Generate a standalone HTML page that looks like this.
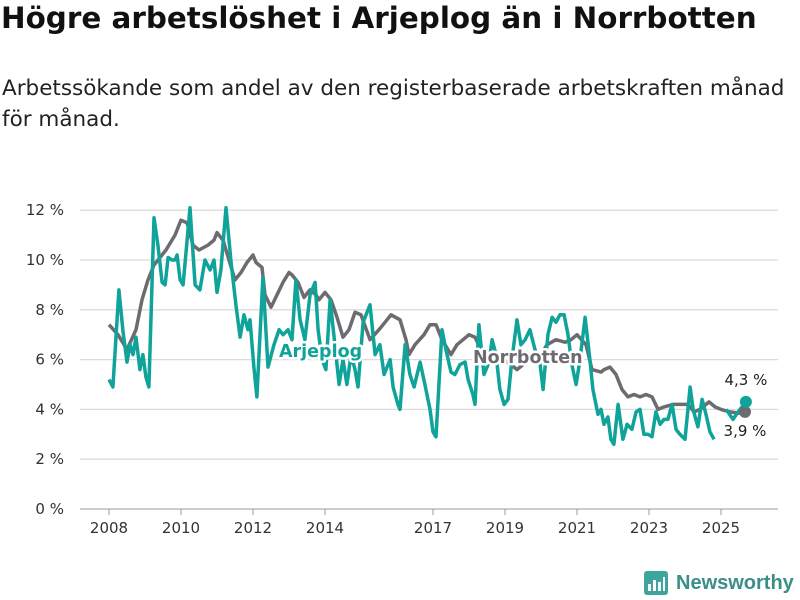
<!DOCTYPE html>
<html><head><meta charset="utf-8">
<style>
body{margin:0;width:800px;height:600px;background:#fff;font-family:"DejaVu Sans","Liberation Sans",sans-serif;overflow:hidden}
h1{position:absolute;left:1px;top:1px;margin:0;font-size:29.4px;font-weight:bold;color:#111;white-space:nowrap}
p{position:absolute;left:2px;top:73px;margin:0;font-size:21.5px;line-height:31px;color:#222;width:785px}
svg{position:absolute;left:0;top:0}
</style></head><body>
<h1>Högre arbetslöshet i Arjeplog än i Norrbotten</h1>
<p>Arbetssökande som andel av den registerbaserade arbetskraften månad för månad.</p>
<svg id="chart" width="800" height="600"></svg>
<script>
const yTicks=[0,2,4,6,8,10,12];
const xTickYears=[2008,2010,2012,2014,2017,2019,2021,2023,2025];
const norrMonths=[0,3,6,9,11,13,15,19,22,24,26,28,30,33,35,36,38,40,42,44,46,48,49,51,52,54,56,58,60,61,63,65,67,69,70,72,74,76,78,80,82,84,87,90,92,94,97,99,100,102,105,107,109,111,114,116,118,120,122,124,126,128,130,134,136,139,141,144,146,149,152,154,156,159,161,164,165,167,169,171,173,175,177,179,181,183,185,188,190,193,195,197,200,202,204,207,210,212];
const norrValues=[7.4,7.0,6.4,7.2,8.4,9.2,9.8,10.4,11.0,11.6,11.5,10.6,10.4,10.6,10.8,11.1,10.8,10.0,9.2,9.5,9.9,10.2,9.9,9.7,8.6,8.1,8.6,9.1,9.5,9.4,9.1,8.5,8.8,8.6,8.4,8.7,8.4,7.7,6.9,7.2,7.9,7.8,6.8,7.2,7.5,7.8,7.6,6.8,6.2,6.6,7.0,7.4,7.4,6.8,6.2,6.6,6.8,7.0,6.9,6.4,5.8,6.0,6.1,5.8,5.6,5.9,6.0,6.2,6.6,6.8,6.7,6.8,7.0,6.6,5.6,5.5,5.6,5.7,5.4,4.8,4.5,4.6,4.5,4.6,4.5,4.0,4.1,4.2,4.2,4.2,3.9,4.0,4.3,4.1,4.0,3.9,3.85,3.9];
const arjMonths=[0,1.3,3.3,4.7,6,7,8,9,10.3,11.3,12.3,13.3,15,16.3,17.7,18.7,19.7,21,22,22.7,23.7,24.7,27,28.7,30.3,32,33.7,35,36,37.3,39,40.7,42.3,43.7,45,46.3,47,48.3,49.3,51.3,53,55,56.7,58,59.7,61,62.3,63.7,65.3,67,68.7,69.7,71,72.3,73.7,75.3,76.7,78,79.3,80.7,82,83,84.7,87,88.7,90.3,91.7,93.7,94.7,96.3,97,98.7,100.3,101.7,103.7,105.3,107,108,109,111,112.3,114,115.3,117,118.7,119.7,121.3,122,123.3,125,126.7,127.7,129,130.3,131.7,133,134.3,136,137.3,138.7,140.3,142,143.7,144.7,146.3,147.7,149,150.3,151.7,153,154.3,155.7,157,158.7,160.3,161.3,163,164,165,166.3,167.3,168.3,169.7,171.3,172.7,174.3,175.7,177,178.3,179.7,181,182.3,183.7,185,186.3,187.7,189,190.3,192,193.7,194.7,196.3,197.7,199,200.3,201.7,204,205.7,206.3,208,209.7,212.3];
const arjValues=[5.2,4.9,8.8,7.1,5.9,6.6,6.2,6.9,5.6,6.2,5.3,4.9,11.7,10.6,9.1,9.0,10.1,10.0,10.0,10.2,9.2,9.0,12.1,9.0,8.8,10.0,9.6,10.0,8.7,9.6,12.1,9.9,8.2,6.9,7.8,7.2,7.6,5.7,4.5,9.3,5.7,6.6,7.2,7.0,7.2,6.8,9.2,7.6,6.8,8.6,9.1,7.2,6.0,5.6,8.4,6.6,5.0,6.0,5.0,6.2,5.6,4.9,7.5,8.2,6.2,6.6,5.4,6.0,4.9,4.2,4.0,6.6,5.4,4.9,5.9,5.0,4.0,3.1,2.9,7.2,6.4,5.5,5.4,5.8,5.9,5.2,4.6,4.2,7.4,5.4,5.9,6.8,6.2,4.8,4.2,4.4,6.0,7.6,6.6,6.8,7.2,6.4,5.8,4.8,7.0,7.7,7.5,7.8,7.8,7.0,5.8,5.0,6.0,7.7,6.0,4.8,3.8,4.0,3.4,3.7,2.8,2.6,4.2,2.8,3.4,3.2,3.9,4.0,3.0,3.0,2.9,3.9,3.4,3.6,3.6,4.2,3.2,3.0,2.8,4.9,4.0,3.3,4.4,3.8,3.1,2.8,null,4.0,3.9,3.6,3.9,4.3];
const lastLabels=["4,3 %","3,9 %"];

const NS='http://www.w3.org/2000/svg';
const svg=document.getElementById('chart');
const X0=109,PXM=3,Y0=509,PXV=24.9;
const xm=m=>X0+m*PXM;
const xy=y=>xm((y-2008)*12);
const yv=v=>Y0-v*PXV;
function mk(tag,attrs,parent){const e=document.createElementNS(NS,tag);for(const k in attrs)e.setAttribute(k,attrs[k]);(parent||svg).appendChild(e);return e;}

yTicks.forEach(t=>{
  const l=mk('line',{x1:80,x2:778,y1:yv(t),y2:yv(t),stroke:t===0?'#bbb':'#dcdcdc','stroke-width':t===0?1.5:1.3});
  
  
  const tx=mk('text',{x:64,y:yv(t)+5,'text-anchor':'end','font-size':15,fill:'#333'});
  tx.textContent=t+' %';
  
  
});
xTickYears.forEach(yr=>{
  const x=xy(yr);
  const l=mk('line',{x1:x,x2:x,y1:Y0,y2:Y0+6,stroke:'#999','stroke-width':1});
  
  
  const tx=mk('text',{x:x,y:533,'text-anchor':'middle','font-size':15,fill:'#333'});
  tx.textContent=yr;
  
  
});
function path(ms,vs){let d='',pen=false;ms.forEach((m,i)=>{const v=vs[i];if(v===null){pen=false;return;}d+=(pen?'L':'M')+xm(m).toFixed(1)+','+yv(v).toFixed(1);pen=true;});return d;}
const pn=mk('path',{d:path(norrMonths,norrValues),fill:'none',stroke:'#6d6b70','stroke-width':3.5,'stroke-linejoin':'round'});


const pa=mk('path',{d:path(arjMonths,arjValues),fill:'none',stroke:'#0fa39a','stroke-width':3.5,'stroke-linejoin':'round'});


const dn=mk('circle',{cx:xm(norrMonths[norrMonths.length-1]),cy:yv(norrValues[norrValues.length-1]),r:6,fill:'#6d6b70'});


const da=mk('circle',{cx:xm(arjMonths[arjMonths.length-1]),cy:yv(arjValues[arjValues.length-1]),r:6,fill:'#0fa39a'});


const la=mk('text',{x:xm(arjMonths[arjMonths.length-1]),y:yv(arjValues[arjValues.length-1])-17,'text-anchor':'middle','font-size':15,fill:'#222'});
la.textContent=lastLabels[0];


const ln=mk('text',{x:xm(norrMonths[norrMonths.length-1]),y:yv(norrValues[norrValues.length-1])+24,'text-anchor':'middle','font-size':15,fill:'#222',stroke:'#fff','stroke-width':4,'paint-order':'stroke'});
ln.textContent=lastLabels[1];


const sa=mk('text',{x:279,y:357,'font-size':17.5,'font-weight':'bold',fill:'#0fa39a',stroke:'#fff','stroke-width':5,'paint-order':'stroke','stroke-linejoin':'round'});
sa.textContent='Arjeplog';


const sn=mk('text',{x:473,y:363,'font-size':17.5,'font-weight':'bold',fill:'#6d6b70',stroke:'#fff','stroke-width':5,'paint-order':'stroke','stroke-linejoin':'round'});
sn.textContent='Norrbotten';


</script>
<div style="position:absolute;left:644px;top:570px;height:26px;display:flex;align-items:center">
<svg width="24" height="24" style="position:static"><rect x="0" y="0" width="24" height="24" rx="3" fill="#3fa59c"/><rect x="4" y="13" width="3" height="7" fill="#fff"/><rect x="9" y="9" width="3" height="11" fill="#fff"/><rect x="14" y="11" width="3" height="9" fill="#fff"/><rect x="19" y="6" width="2" height="14" fill="#fff"/></svg>
<span style="margin-left:8px;font-family:'Liberation Sans',sans-serif;font-size:20px;font-weight:bold;color:#3a8f88">Newsworthy</span></div>
</body></html>
